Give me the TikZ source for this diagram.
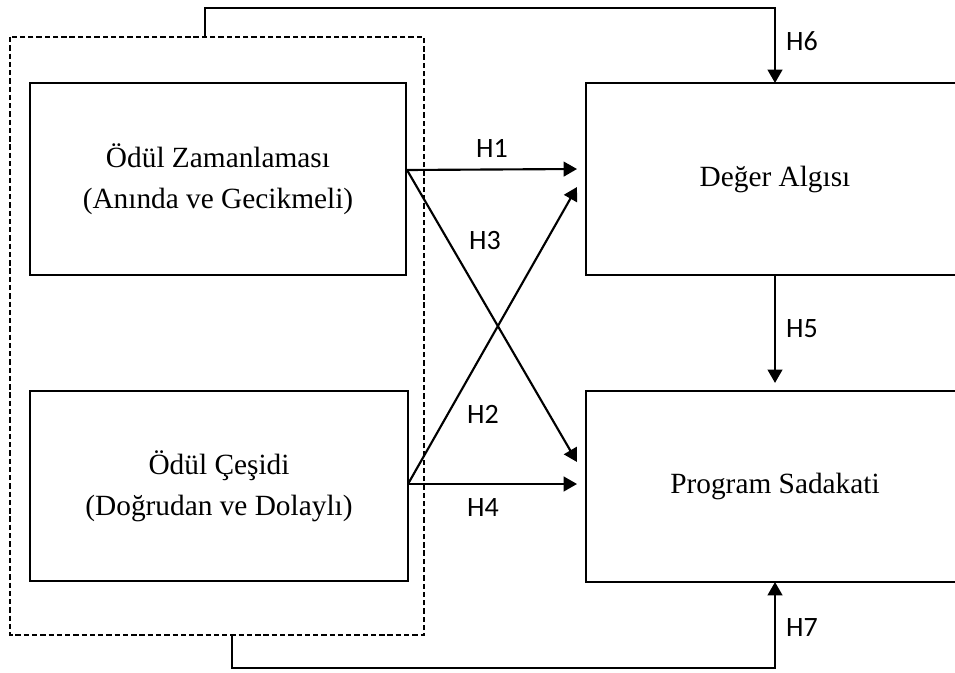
\documentclass[tikz,border=0pt]{standalone}
\usepackage{fontspec}
\setmainfont{Liberation Serif}
\newfontfamily\lblfont{Carlito}
\usetikzlibrary{arrows.meta}
\begin{document}
\begin{tikzpicture}[x=0.75pt,y=-0.75pt,
  box/.style={draw=black,line width=1.6pt,rectangle,align=center,inner sep=0pt,
    font=\fontsize{22}{31}\selectfont},
  conn/.style={line width=1.6pt,-{Triangle[length=10pt,width=11pt]}},
  lbl/.style={font=\lblfont\fontsize{21}{24}\selectfont,inner sep=0pt}]
\clip (0,0) rectangle (955,673);
\fill[white] (0,0) rectangle (955,673);
% dashed group
\draw[line width=1.3pt,dash pattern=on 4pt off 2.2pt] (10,37) rectangle (424,635);
% boxes
\node[box,minimum width=376*0.75pt,minimum height=192*0.75pt] (b1) at (218,179)
  {Ödül Zamanlaması\\(Anında ve Gecikmeli)};
\node[box,minimum width=378*0.75pt,minimum height=190*0.75pt] (b2) at (219,486)
  {Ödül Çeşidi\\(Doğrudan ve Dolaylı)};
\node[box,minimum width=378*0.75pt,minimum height=192*0.75pt] (b3) at (775,179)
  {Değer Algısı};
\node[box,minimum width=378*0.75pt,minimum height=191*0.75pt] (b4) at (775,486.5)
  {Program Sadakati};
% named points
\coordinate (s1) at (407,170);
\coordinate (s2) at (408,484);
\coordinate (t1) at (577,169);
\coordinate (t2) at (577,187);
\coordinate (t3) at (577,462);
\coordinate (t4) at (577,484);
\coordinate (g1) at (205,37);
\coordinate (g2) at (232,635);
\coordinate (p6) at (775,83);
\coordinate (p7) at (775,582);
% connectors
\draw[conn] (s1) -- (t1);
\draw[conn] (s1) -- (t3);
\draw[conn] (s2) -- (t2);
\draw[conn] (s2) -- (t4);
\draw[conn] (b3.south) -- ([yshift=7*0.75pt]b4.north);
\draw[conn] (g1) -- (205,8) -| (p6);
\draw[conn] (g2) -- (232,668) -| (p7);
% labels
\node[lbl] (h1) at (492,148) {H1};
\node[lbl] (h3) at (485,241) {H3};
\node[lbl] (h2) at (483,414) {H2};
\node[lbl] (h4) at (483,508) {H4};
\node[lbl] (h5) at (802,329) {H5};
\node[lbl] (h6) at (802,41) {H6};
\node[lbl] (h7) at (802,628) {H7};
\end{tikzpicture}
\end{document}
